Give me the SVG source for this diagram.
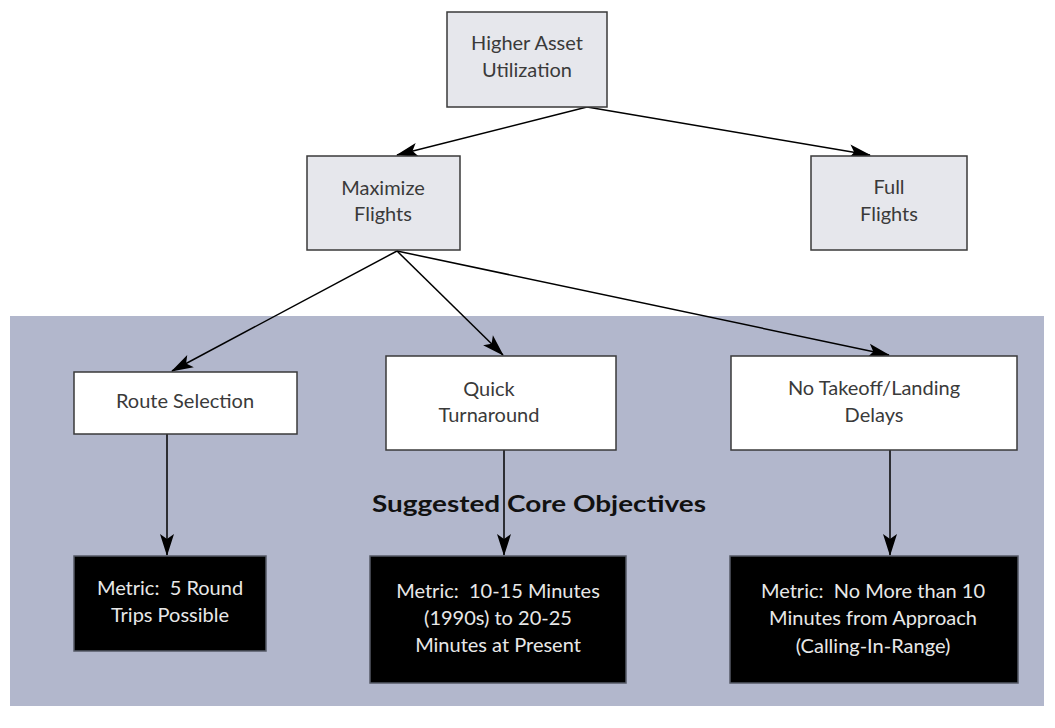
<svg xmlns="http://www.w3.org/2000/svg" width="1055" height="728" viewBox="0 0 1055 728">
<style>
.bg{fill:#b2b7cc}
.g{fill:#e6e7ec;stroke:#3a3a3a;stroke-width:1.5}
.w{fill:#ffffff;stroke:#3a3a3a;stroke-width:1.5}
.k{fill:#000000;stroke:#555a66;stroke-width:1.5}
.t{font-family:Lato,"Liberation Sans",sans-serif;font-size:20px;fill:#3a3a3a;text-anchor:middle;white-space:pre}
.tw{font-family:Lato,"Liberation Sans",sans-serif;font-size:20px;fill:#e8e8e8;text-anchor:middle;white-space:pre}
.title{font-family:Lato,"Liberation Sans",sans-serif;font-size:23px;font-weight:bold;fill:#111111}
.c{stroke:#000000;stroke-width:1.5;fill:none;marker-end:url(#arr)}
</style>
<defs>
<marker id="arr" markerUnits="userSpaceOnUse" markerWidth="22" markerHeight="14" refX="21" refY="7" orient="auto" overflow="visible">
<path d="M0,0 L22,7 L0,14 L5,7 z" fill="#000000"/>
</marker>
</defs>
<rect class="bg" x="10" y="316" width="1034" height="390"/>
<text class="title" x="372" y="512" textLength="334" lengthAdjust="spacingAndGlyphs">Suggested Core Objectives</text>
<g id="connectors">
<line class="c" x1="587" y1="107" x2="397" y2="155"/>
<line class="c" x1="587" y1="107" x2="870" y2="155"/>
<line class="c" x1="397" y1="251" x2="172" y2="371"/>
<line class="c" x1="397" y1="251" x2="503" y2="355"/>
<line class="c" x1="397" y1="251" x2="889" y2="355"/>
<line class="c" x1="167" y1="434" x2="167" y2="555"/>
<line class="c" x1="504" y1="450" x2="504" y2="555"/>
<line class="c" x1="890" y1="450" x2="890" y2="555"/>
</g>
<g id="higher-asset">
<rect class="g" x="447" y="12" width="160" height="95"/>
<text class="t" x="527" y="50">Higher Asset</text>
<text class="t" x="527" y="77">Utilization</text>
</g>
<g id="maximize-flights">
<rect class="g" x="307" y="156" width="153" height="94"/>
<text class="t" x="383" y="195">Maximize</text>
<text class="t" x="383" y="221">Flights</text>
</g>
<g id="full-flights">
<rect class="g" x="811" y="156" width="156" height="94"/>
<text class="t" x="889" y="194">Full</text>
<text class="t" x="889" y="221">Flights</text>
</g>
<g id="route-selection">
<rect class="w" x="74" y="372" width="223" height="62"/>
<text class="t" x="185" y="408">Route Selection</text>
</g>
<g id="quick-turnaround">
<rect class="w" x="386" y="356" width="230" height="94"/>
<text class="t" x="489" y="396">Quick</text>
<text class="t" x="489" y="422">Turnaround</text>
</g>
<g id="no-delays">
<rect class="w" x="731" y="356" width="286" height="94"/>
<text class="t" x="874" y="395">No Takeoff/Landing</text>
<text class="t" x="874" y="422">Delays</text>
</g>
<g id="metric-route">
<rect class="k" x="74" y="556" width="192" height="95"/>
<text class="tw" x="170" y="595">Metric:  5 Round</text>
<text class="tw" x="170" y="622">Trips Possible</text>
</g>
<g id="metric-turnaround">
<rect class="k" x="370" y="556" width="256" height="127"/>
<text class="tw" x="498" y="598">Metric:  10-15 Minutes</text>
<text class="tw" x="498" y="625">(1990s) to 20-25</text>
<text class="tw" x="498" y="652">Minutes at Present</text>
</g>
<g id="metric-delays">
<rect class="k" x="730" y="556" width="288" height="127"/>
<text class="tw" x="873" y="598">Metric:  No More than 10</text>
<text class="tw" x="873" y="625">Minutes from Approach</text>
<text class="tw" x="873" y="653">(Calling-In-Range)</text>
</g>
</svg>
